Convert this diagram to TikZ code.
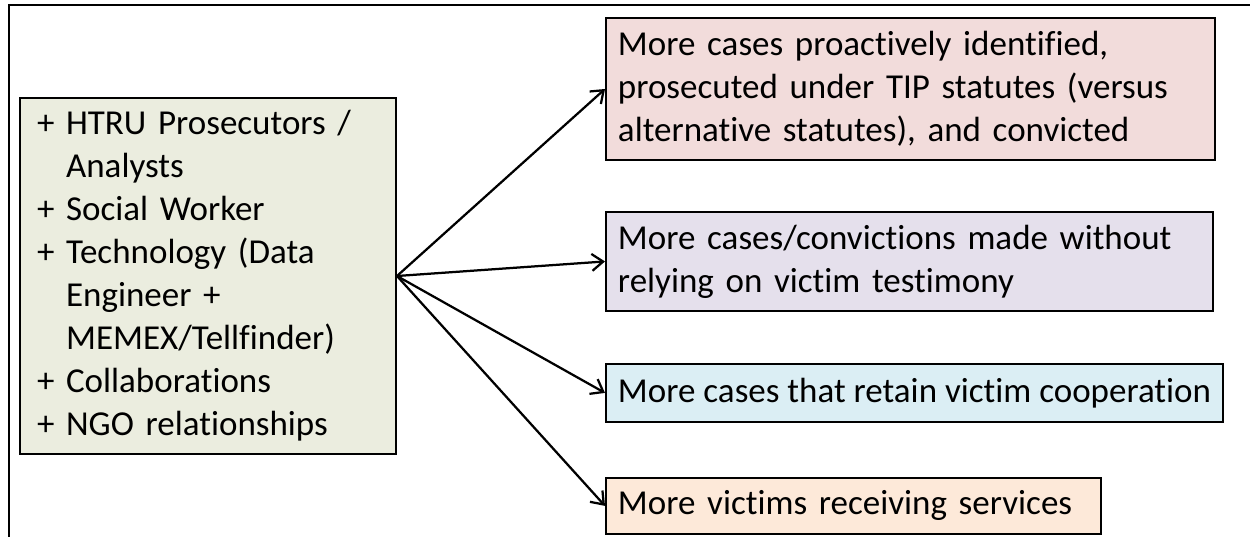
\documentclass[tikz,border=0pt]{standalone}
\usepackage{fontspec}
\setmainfont{Carlito}[Ligatures=NoCommon]
\usepackage{xcolor}
\usepackage{tikz}
\usetikzlibrary{arrows.meta, positioning}
\definecolor{causegreen}{HTML}{EBEDDF}
\definecolor{resultpink}{HTML}{F2DCDB}
\definecolor{resultpurple}{HTML}{E5E0EC}
\definecolor{resultblue}{HTML}{DBEEF4}
\definecolor{resultorange}{HTML}{FDE9D9}
\tikzstyle{cause} = [rectangle, draw=black, line width=1.4pt, fill=causegreen, text width=8.55cm, minimum height=8.9cm, inner xsep=0.425cm, align=left, font=\fontsize{24.9}{30.6}\selectfont]
\tikzstyle{result} = [rectangle, draw=black, line width=1.4pt, inner xsep=0.3cm, align=left, font=\fontsize{24.9}{30.6}\selectfont]
\tikzstyle{arrow} = [line width=1.6pt, -{Straight Barb[length=8pt, width=12pt]}]

\begin{document}
\begin{tikzpicture}[node distance=1.25cm and 0cm]
    \useasboundingbox (0,0) rectangle (31.25,-13.425);
    \draw[line width=1.4pt] (0.225,-13.425) |- (31.25,-0.125);

    \node[cause] (staff) at (5.2,-6.9) {+ HTRU Prosecutors /\\\phantom{+ }Analysts\\+ Social Worker\\+ Technology (Data\\\phantom{+ }Engineer +\\\phantom{+ }MEMEX/Tellfinder)\\+ Collaborations\\+ NGO relationships};

    \node[result, fill=resultpink, text width=14.625cm, minimum height=3.55cm, anchor=north west] (tip) at (15.125,-0.425) {More cases proactively identified,\\prosecuted under TIP statutes (versus\\alternative statutes), and convicted};
    \node[result, fill=resultpurple, text width=14.575cm, minimum height=2.475cm, below right=1.25cm and 0cm of tip.south west] (testimony) {More cases/convictions made without\\relying on victim testimony};
    \node[result, fill=resultblue, minimum height=1.45cm, below right=1.275cm and 0cm of testimony.south west] (cooperation) {More cases that retain victim cooperation};
    \node[result, fill=resultorange, text width=11.775cm, minimum height=1.4cm, below right=1.35cm and 0cm of cooperation.south west] (services) {More victims receiving services};

    \draw[arrow] (staff.east) -- (tip.west);
    \draw[arrow] (staff.east) -- (testimony.west);
    \draw[arrow] (staff.east) -- (cooperation.west);
    \draw[arrow] (staff.east) -- (services.west);
\end{tikzpicture}
\end{document}
